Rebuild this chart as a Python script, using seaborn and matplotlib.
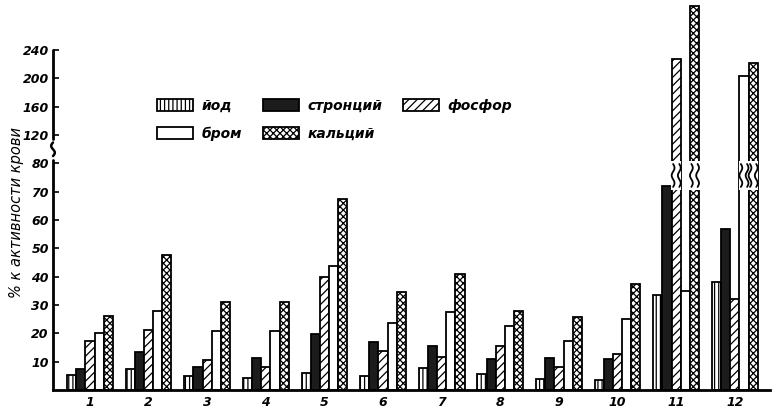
import numpy as np
import pandas as pd
import matplotlib
matplotlib.use("Agg")
import matplotlib.pyplot as plt
from matplotlib.patches import Patch, Rectangle
import seaborn as sns

# ---- data ----
groups = ["1", "2", "3", "4", "5", "6", "7", "8", "9", "10", "11", "12"]
series_names = ["йод", "стронций", "фосфор", "бром", "кальций"]
iod       = [5.3, 7.3, 5.0, 4.1, 5.9, 4.9, 7.6, 5.5, 3.8, 3.5, 33.5, 38.0]
strontium = [7.4, 13.3, 8.2, 11.2, 19.8, 17.1, 15.6, 10.9, 11.3, 10.8, 72.0, 57.0]
phosphor  = [17.4, 21.2, 10.6, 8.0, 39.8, 13.9, 11.8, 15.6, 8.2, 12.6, 228.0, 32.0]
bromine   = [20.0, 28.0, 20.9, 20.9, 43.8, 23.8, 27.5, 22.6, 17.4, 25.2, 35.0, 203.0]
calcium   = [26.1, 47.6, 30.9, 30.9, 67.4, 34.6, 40.8, 27.8, 25.6, 37.6, 303.0, 222.0]
ytick_values = [10, 20, 30, 40, 50, 60, 70, 80, 120, 160, 200, 240]
ylabel = "% к активности крови"

# broken axis: 0..80 linear, then 120..240 compressed 4x
def brk(v):
    return v if v <= 80 else 90 + (v - 120) / 4.0

values = [iod, strontium, phosphor, bromine, calcium]
rows = []
for name, vals in zip(series_names, values):
    for g, v in zip(groups, vals):
        rows.append({"group": g, "series": name, "value": v, "t": brk(v)})
df = pd.DataFrame(rows)

styles = {
    "йод":      dict(facecolor="white", hatch="||||"),
    "стронций": dict(facecolor="#1c1c1c", hatch=None),
    "фосфор":   dict(facecolor="white", hatch="////"),
    "бром":     dict(facecolor="white", hatch=None),
    "кальций":  dict(facecolor="white", hatch="xxxxx"),
}

sns.set_style("white")
plt.rcParams["hatch.linewidth"] = 0.9
plt.rcParams["text.color"] = "black"
plt.rcParams["xtick.color"] = "black"
plt.rcParams["ytick.color"] = "black"
font_fam = ["DejaVu Sans"]

fig = plt.figure(figsize=(7.74, 4.12), dpi=100)
ax = fig.add_axes([53 / 774, 22 / 412, 717 / 774, 388 / 412])

sns.barplot(data=df, x="group", y="t", hue="series", order=groups,
            hue_order=series_names, width=0.78,
            palette={k: "white" for k in series_names},
            edgecolor="black", linewidth=1.3, legend=False, ax=ax,
            errorbar=None, zorder=2)

for name, cont in zip(series_names, ax.containers):
    st = styles[name]
    for p in cont.patches:
        p.set_facecolor(st["facecolor"])
        p.set_edgecolor("black")
        if st["hatch"]:
            p.set_hatch(st["hatch"])

ax.set_xlim(-0.63, 11.6)
ax.set_ylim(0, 137)

# breaks inside tall bars
gap_lo, gap_hi = 70.5, 81.0
for si, (name, cont) in enumerate(zip(series_names, ax.containers)):
    for gi, p in enumerate(cont.patches):
        v = values[si][gi]
        if v > 80:
            x0, w = p.get_x(), p.get_width()
            ax.add_patch(Rectangle((x0 - 0.01, gap_lo), w + 0.02, gap_hi - gap_lo,
                                   facecolor="white", edgecolor="none", zorder=5))
            tt = np.linspace(gap_lo + 1.2, gap_hi - 1.2, 60)
            wave = 0.024 * np.sin((tt - tt[0]) / (tt[-1] - tt[0]) * 2 * np.pi * 1.5)
            for ex in (x0 + 0.025, x0 + w - 0.025):
                ax.plot(ex + wave, tt, color="black", lw=1.3, zorder=6,
                        solid_capstyle="round")

# axes styling
for s in ["top", "right", "left"]:
    ax.spines[s].set_visible(False)
ax.spines["bottom"].set_linewidth(2)
ax.spines["bottom"].set_color("black")
ax.spines["bottom"].set_zorder(7)

ytr = ax.get_yaxis_transform()
ax.plot([0, 0], [0, 81.3], transform=ytr, color="black", lw=2, clip_on=False,
        zorder=8)
ax.plot([0, 0], [88.6, 120], transform=ytr, color="black", lw=2,
        clip_on=False, zorder=8)
tq = np.linspace(82.6, 87.4, 40)
ax.plot(0.0025 * np.sin((tq - 82.6) / 4.8 * 2 * np.pi), tq, transform=ytr,
        color="black", lw=1.8, clip_on=False, zorder=8)

ax.set_yticks([brk(v) for v in ytick_values])
ax.set_yticklabels([str(v) for v in ytick_values])
ax.tick_params(axis="y", direction="in", length=4, width=1.2, left=True,
               pad=3, colors="black")
ax.tick_params(axis="x", length=0, pad=4, colors="black")
for lab in ax.get_yticklabels() + ax.get_xticklabels():
    lab.set_fontstyle("italic")
    lab.set_fontweight("bold")
    lab.set_fontsize(9)
    lab.set_family(font_fam)

ax.set_xlabel("")
ax.set_ylabel("")
fig.text(17 / 774, 1 - 212 / 412, ylabel, rotation=90, ha="center",
         va="center", fontsize=10.5, fontstyle="italic", family=font_fam,
         color="black")

# legend: rows йод/стронций/фосфор, бром/кальций
order = ["йод", "бром", "стронций", "кальций", "фосфор"]
handles = []
for name in order:
    st = styles[name]
    handles.append(Patch(facecolor=st["facecolor"], edgecolor="black",
                         hatch=st["hatch"], linewidth=1.3))
fig.legend(handles, order, ncol=3, loc="upper left",
           bbox_to_anchor=(157 / 774, 1 - 99 / 412), frameon=False,
           borderpad=0, borderaxespad=0, handlelength=2.6, handleheight=0.95,
           handletextpad=0.6, columnspacing=1.5, labelspacing=1.0,
           labelcolor="black",
           prop=dict(style="italic", weight="bold", size=10, family=font_fam))

fig.savefig("out.png", dpi=100)
